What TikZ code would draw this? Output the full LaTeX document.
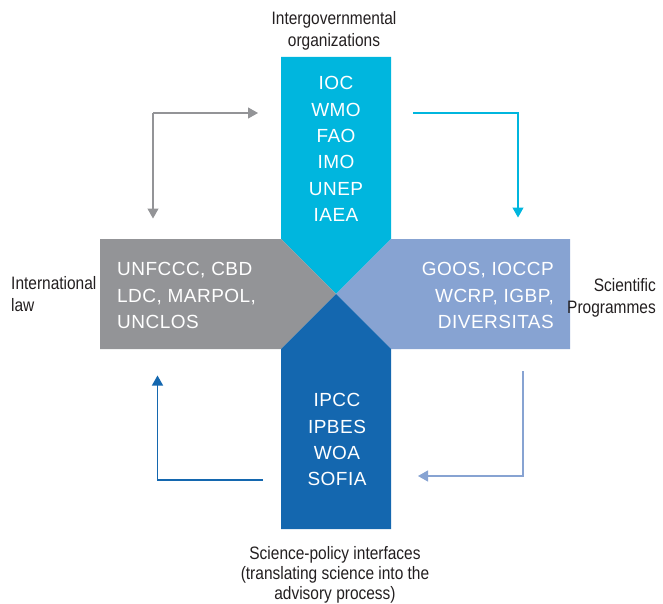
\documentclass[tikz,border=0pt]{standalone}
\usepackage{fontspec}
\setmainfont{Liberation Sans}
\newfontfamily\condfont[FakeStretch=0.86]{Liberation Sans}
\newfontfamily\spacedfont[LetterSpace=2.5]{Liberation Sans}
\usetikzlibrary{arrows.meta}
\definecolor{cyanbox}{HTML}{00B6DE}
\definecolor{graybox}{HTML}{939497}
\definecolor{lightbox}{HTML}{87A3D2}
\definecolor{darkbox}{HTML}{1467AF}
\definecolor{labeltext}{HTML}{231F20}
\tikzset{
  inner/.style={text=white, inner sep=0pt, font=\spacedfont\fontsize{19}{26.3}\selectfont},
  outer/.style={text=labeltext, inner sep=0pt, font=\condfont\fontsize{18}{22}\selectfont},
  flow/.style={line width=1.2pt, -{Triangle[width=11pt,length=10pt]}},
}
\begin{document}
\begin{tikzpicture}[x=1pt,y=-1pt]
\useasboundingbox (0,0) rectangle (663,604);
% shapes
\fill[cyanbox] (281,57) -- (391,57) -- (391,239) -- (336,294) -- (281,239) -- cycle;
\fill[graybox] (100,239) -- (281,239) -- (336,294) -- (281,349) -- (100,349) -- cycle;
\fill[lightbox] (570,239) -- (391,239) -- (336,294) -- (391,349) -- (570,349) -- cycle;
\fill[darkbox] (281,529) -- (391,529) -- (391,349) -- (336,294) -- (281,349) -- cycle;
% texts in shapes
\node[inner, anchor=north, align=center] (igo) at (336,76.5) {IOC\\WMO\\FAO\\IMO\\UNEP\\IAEA};
\node[inner, anchor=north west, align=left] (law) at (117,262.5) {UNFCCC, CBD\\LDC, MARPOL,\\UNCLOS};
\node[inner, anchor=north east, align=right] (sci) at (554,262.5) {GOOS, IOCCP\\WCRP, IGBP,\\DIVERSITAS};
\node[inner, anchor=north, align=center] (spi) at (337,393.5) {IPCC\\IPBES\\WOA\\SOFIA};
% outside labels
\node[outer, anchor=north, align=center] (igol) at (334,11) {Intergovernmental\\organizations};
\node[outer, anchor=north west, align=left] (lawl) at (11,276.5) {International\\law};
\node[outer, anchor=north east, align=right] (scil) at (656,278) {Scientific\\Programmes};
\node[outer, anchor=north, align=center, font=\condfont\fontsize{18}{20}\selectfont] (spil) at (335,546) {Science-policy interfaces\\(translating science into the\\advisory process)};
% arrows
\coordinate (g0) at (153,113);
\coordinate (g1) at (258,113);
\coordinate (g2) at (153,218.5);
\draw[flow, graybox] (g0) -- (g1);
\draw[flow, graybox] (g0) -- (g2);
\coordinate (c0) at (413,113);
\coordinate (c1) at (518,113);
\coordinate (c2) at (518,217.5);
\draw[flow, cyanbox] (c0) -- (c1) -- (c2);
\coordinate (l0) at (523,371);
\coordinate (l1) at (523,476);
\coordinate (l2) at (418,476);
\draw[flow, lightbox] (l0) -- (l1) -- (l2);
\coordinate (d0) at (263,480);
\coordinate (d1) at (157.5,480);
\coordinate (d2) at (157.5,375.5);
\draw[flow, darkbox] (d0) -- (d1) -- (d2);
\end{tikzpicture}
\end{document}
